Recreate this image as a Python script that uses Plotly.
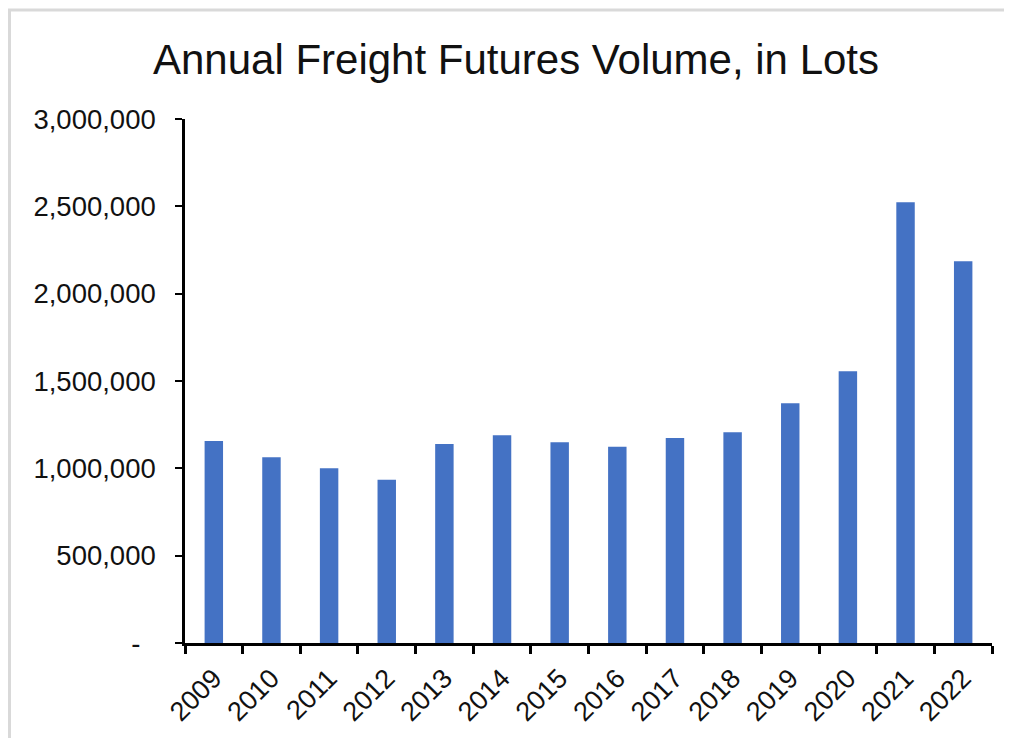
import plotly.graph_objects as go

years = ["2009", "2010", "2011", "2012", "2013", "2014", "2015", "2016",
         "2017", "2018", "2019", "2020", "2021", "2022"]
volume = [1157000, 1063000, 1000000, 934000, 1140000, 1189000, 1149000,
          1124000, 1174000, 1206000, 1372000, 1556000, 2523000, 2186000]
y_tickvals = [0, 500000, 1000000, 1500000, 2000000, 2500000, 3000000]
y_ticktext = ["-\u00a0\u00a0", "500,000", "1,000,000", "1,500,000", "2,000,000",
              "2,500,000", "3,000,000"]
title_text = "Annual Freight Futures Volume, in Lots"

OFF = 8  # page body margin
W, H = 1012 - OFF, 738 - OFF
L, R, T, B = 185 - OFF, 20, 119 - OFF, 95
pw, ph = W - L - R, H - T - B

def px_x(p):
    return (p - OFF - L) / pw

def px_y(p):
    return (H - B - (p - OFF)) / ph

fig = go.Figure(go.Bar(x=years, y=volume, marker=dict(color="#4472C4", line=dict(width=0))))

font_family = "Liberation Sans, Arial, sans-serif"

fig.update_layout(
    width=W, height=H,
    margin=dict(l=L, r=R, t=T, b=B),
    paper_bgcolor="white", plot_bgcolor="white",
    bargap=0.68,
    showlegend=False,
    title=dict(text=title_text, x=(516 - OFF) / W, xanchor="center", xref="container",
               y=1 - (59 - OFF) / H, yanchor="middle", yref="container",
               font=dict(family=font_family, size=42, color="#111111")),
    font=dict(family=font_family, color="#111111"),
    xaxis=dict(type="category", showline=True, linecolor="black", linewidth=2.5,
               ticks="outside", tickson="boundaries", ticklen=8, tickwidth=2.5,
               tickcolor="black", tickangle=-45, showgrid=False, ticklabelstandoff=6,
               tickfont=dict(size=27, family=font_family, color="#111111")),
    yaxis=dict(range=[0, 3000000], tickvals=y_tickvals, ticktext=y_ticktext,
               showline=True, linecolor="black", linewidth=2.5, ticks="outside",
               ticklen=7, tickwidth=2, tickcolor="black", showgrid=False,
               zeroline=False, ticklabelstandoff=14,
               tickfont=dict(size=27.5, family=font_family, color="#111111")),
    shapes=[
        dict(type="line", xref="paper", yref="paper", x0=px_x(8), x1=px_x(1030),
             y0=px_y(10), y1=px_y(10), line=dict(color="#d9d9d9", width=3)),
        dict(type="line", xref="paper", yref="paper", x0=px_x(9.5), x1=px_x(9.5),
             y0=px_y(9), y1=px_y(750), line=dict(color="#d9d9d9", width=3)),
    ],
)

fig.write_html("out.html")
